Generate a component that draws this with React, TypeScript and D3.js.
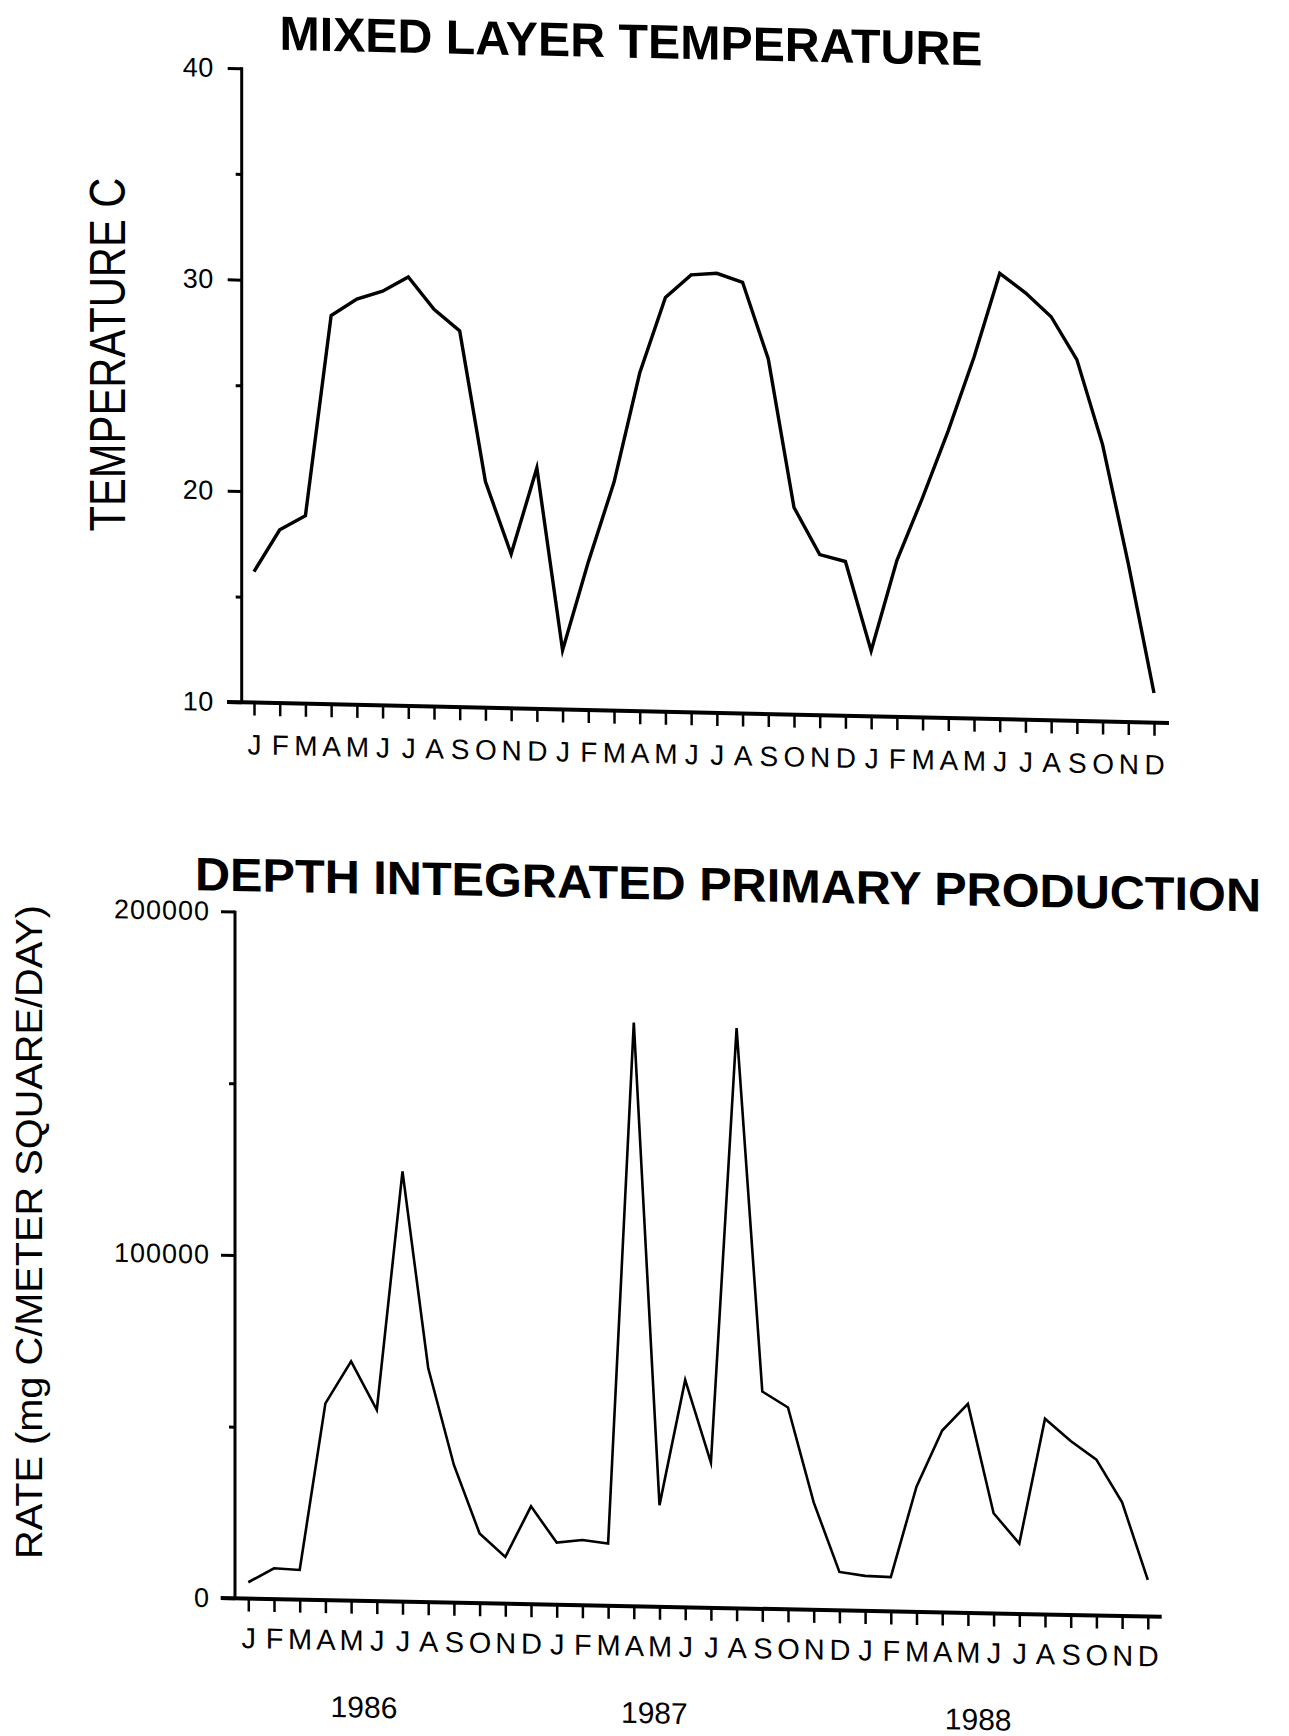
import React, { useEffect, useRef } from 'react';
import * as d3 from 'd3';

// month initials for the x axis, Jan 1986 .. Dec 1988
const monthInitials = ['J', 'F', 'M', 'A', 'M', 'J', 'J', 'A', 'S', 'O', 'N', 'D'];
const years = ['1986', '1987', '1988'];
// month index (0 = Jan 1986) under which each year label sits
const yearLabelMonth = [4.5, 15.8, 28.4];

// mixed layer temperature (deg C), one value per month
const temperature = [
  16.2, 18.2, 18.9, 28.4, 29.2, 29.6, 30.3, 28.8, 27.8, 20.7, 17.3, 21.4,
  12.8, 17.0, 20.8, 26.0, 29.6, 30.7, 30.8, 30.4, 26.8, 19.8, 17.6, 17.3,
  13.1, 17.4, 20.4, 23.6, 27.1, 31.1, 30.2, 29.1, 27.1, 23.1, 17.5, 11.4,
];

// depth integrated primary production (mg C/m2/day), one value per month
const production = [
  4750, 8970, 8620, 57300, 69700, 55700, 125300, 68200, 40100, 20300, 13600, 28500,
  18100, 19000, 18100, 170000, 29600, 66200, 42300, 169000, 63300, 58800, 31300, 11200,
  10200, 10000, 36500, 53000, 60900, 29200, 20500, 57000, 50700, 45400, 33100, 10700,
];

const tempTicks = [10, 20, 30, 40];
const tempMinorTicks = [15, 25, 35];
const prodTicks = [0, 100000, 200000];
const prodMinorTicks = [50000, 150000];

const font = "'Liberation Sans', Arial, Helvetica, sans-serif";

// the scanned page is slightly sheared: horizontals fall to the right
const shear = (x0: number, slope: number) => {
  const a = (Math.atan(slope) * 180) / Math.PI;
  return `translate(${x0},0) skewY(${a}) translate(${-x0},0)`;
};

const App = () => {
  const ref = useRef<SVGSVGElement>(null);

  useEffect(() => {
    const svg = d3.select(ref.current);
    svg.selectAll('*').remove();
    const months = d3.range(temperature.length);

    const drawPanel = (opts: any) => {
      const g = svg.append('g').attr('transform', shear(opts.x0, opts.slope));

      const x = d3.scaleLinear().domain([0, months.length - 1]).range(opts.xRange);
      const y = d3.scaleLinear().domain(opts.yDomain).range(opts.yRange);

      // y axis, major ticks with labels
      const ya = g.append('g')
        .attr('transform', `translate(${opts.x0},0)`)
        .call(d3.axisLeft(y).tickValues(opts.ticks).tickSize(14).tickPadding(opts.yPad)
          .tickFormat((d: any) => String(d)));
      ya.select('.domain').remove();
      ya.selectAll('line').attr('stroke', '#000').attr('stroke-width', 3);
      ya.selectAll('text')
        .attr('fill', '#000')
        .attr('font-family', font)
        .attr('font-size', opts.yFont)
        .attr('letter-spacing', opts.yLetter);

      // minor ticks
      const ym = g.append('g')
        .attr('transform', `translate(${opts.x0},0)`)
        .call(d3.axisLeft(y).tickValues(opts.minor).tickSize(6).tickFormat(() => ''));
      ym.select('.domain').remove();
      ym.selectAll('line').attr('stroke', '#000').attr('stroke-width', 3);

      g.append('line')
        .attr('x1', opts.x0).attr('x2', opts.x0)
        .attr('y1', y.range()[1] - 1).attr('y2', y.range()[0])
        .attr('stroke', '#000').attr('stroke-width', 3);

      // x axis: month initials
      const xa = g.append('g')
        .attr('transform', `translate(0,${y.range()[0]})`)
        .call(d3.axisBottom(x).tickValues(months).tickSize(13).tickPadding(opts.xPad)
          .tickFormat((i: any) => monthInitials[i % 12]));
      xa.select('.domain').remove();
      xa.selectAll('line').attr('stroke', '#000').attr('stroke-width', 2.5);
      xa.selectAll('text')
        .attr('fill', '#000')
        .attr('font-family', font)
        .attr('font-size', opts.xFont);

      g.append('line')
        .attr('x1', opts.axisStart).attr('x2', opts.axisEnd)
        .attr('y1', y.range()[0]).attr('y2', y.range()[0])
        .attr('stroke', '#000').attr('stroke-width', 4);

      // data line
      const line = d3.line<number>()
        .x((_, i) => x(i))
        .y(d => y(d));
      g.append('path')
        .datum(opts.data)
        .attr('d', line)
        .attr('fill', 'none')
        .attr('stroke', '#000')
        .attr('stroke-width', opts.lineWidth)
        .attr('stroke-linejoin', 'miter')
        .attr('stroke-miterlimit', 6);

      // title
      g.append('text')
        .attr('x', opts.titleX)
        .attr('y', opts.titleY)
        .attr('font-family', font)
        .attr('font-weight', 'bold')
        .attr('font-size', opts.titleFont)
        .attr('textLength', opts.titleLen)
        .attr('lengthAdjust', 'spacingAndGlyphs')
        .attr('fill', '#000')
        .text(opts.title);

      // axis title (upright, outside the shear)
      svg.append('text')
        .attr('transform', `translate(${opts.labelX},${opts.labelY}) rotate(-90)`)
        .attr('text-anchor', 'middle')
        .attr('font-family', font)
        .attr('font-size', opts.labelFont)
        .attr('textLength', opts.labelLen)
        .attr('lengthAdjust', 'spacingAndGlyphs')
        .attr('fill', '#000')
        .text(opts.label);

      return { g, x, y };
    };

    drawPanel({
      x0: 241.7, slope: 0.0223,
      xRange: [254, 1154], yDomain: [10, 40], yRange: [702.3, 68.3],
      ticks: tempTicks, minor: tempMinorTicks, yPad: 14, yFont: 27, yLetter: 0.5,
      xPad: 19, xFont: 28, axisStart: 227, axisEnd: 1169,
      data: temperature, lineWidth: 3.4,
      title: 'MIXED LAYER TEMPERATURE', titleX: 279.5, titleY: 49, titleFont: 48, titleLen: 703,
      label: 'TEMPERATURE C', labelX: 125, labelY: 354.5, labelFont: 50, labelLen: 354,
    });

    const bottom = drawPanel({
      x0: 235, slope: 0.02,
      xRange: [248.3, 1147.8], yDomain: [0, 200000], yRange: [1598.3, 911.6],
      ticks: prodTicks, minor: prodMinorTicks, yPad: 11, yFont: 27, yLetter: 1,
      xPad: 16, xFont: 29, axisStart: 220.7, axisEnd: 1161.7,
      data: production, lineWidth: 2.6,
      title: 'DEPTH INTEGRATED PRIMARY PRODUCTION', titleX: 195, titleY: 891, titleFont: 47, titleLen: 1066,
      label: 'RATE (mg C/METER SQUARE/DAY)', labelX: 42, labelY: 1232, labelFont: 37, labelLen: 654,
    });

    // year labels under the month initials
    bottom.g.selectAll('text.year')
      .data(years)
      .join('text')
      .attr('class', 'year')
      .attr('x', (_, i) => bottom.x(yearLabelMonth[i]))
      .attr('y', 1715)
      .attr('text-anchor', 'middle')
      .attr('font-family', font)
      .attr('font-size', 30)
      .attr('fill', '#000')
      .text(d => d);
  }, []);

  return (
    <svg
      ref={ref}
      width={1289}
      height={1736}
      style={{ position: 'absolute', left: 0, top: 0, background: '#fff' }}
    />
  );
};

export default App;
